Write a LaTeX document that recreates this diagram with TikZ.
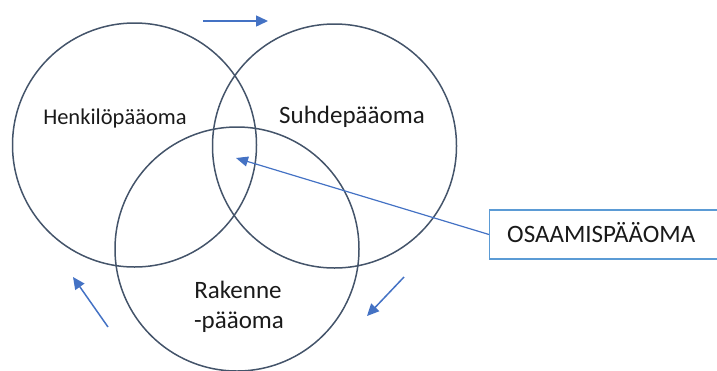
\documentclass[tikz,border=0pt]{standalone}
\usepackage{fontspec}
\setmainfont{Carlito}
\usetikzlibrary{arrows.meta}
\definecolor{ringcol}{HTML}{44546A}
\definecolor{flowcol}{HTML}{4472C4}
\definecolor{boxcol}{HTML}{5B9BD5}
\definecolor{txtcol}{HTML}{1A1A1A}
\tikzset{
  ring/.style={circle, draw=ringcol, line width=1.5pt, minimum size=244pt, inner sep=0pt},
  lbl/.style={text=txtcol, font=\fontsize{25}{28}\selectfont, align=center, inner sep=0pt},
  flow/.style={draw=flowcol, line width=1.5pt, -{Triangle[length=12pt,width=11pt]}},
  capbox/.style={draw=boxcol, line width=1.4pt, fill=white, minimum width=240pt, minimum height=49pt, anchor=west, inner sep=0pt}
}
\begin{document}
\begin{tikzpicture}[x=1pt,y=-1pt]
  \useasboundingbox (0,0) rectangle (717,370);
  % three overlapping capitals
  \node[ring] (hen) at (134.5,145) {};
  \node[ring] (suh) at (334.5,146) {};
  \node[ring] (rak) at (237,249) {};
  % labels
  \node[lbl, font=\fontsize{22.5}{26}\selectfont, anchor=base] (henl) at (115,124) {Henkilöpääoma};
  \node[lbl, anchor=base] (suhl) at (352,123) {Suhdepääoma};
  \node[lbl, anchor=base] (rakl1) at (238,298) {Rakenne};
  \node[lbl, anchor=base] (rakl2) at (239,328) {-pääoma};
  % flow arrows around the diagram
  \coordinate (t1) at (203,21);  \coordinate (t2) at (268,21);
  \coordinate (r1) at (404,277); \coordinate (r2) at (367,316);
  \coordinate (l1) at (108,327); \coordinate (l2) at (73,277);
  \draw[flow] (t1) -- (t2);
  \draw[flow] (r1) -- (r2);
  \draw[flow] (l1) -- (l2);
  % intersection callout
  \node[capbox] (osa) at (489,234.5) {};
  \node[lbl, anchor=base west] (osal) at (507,242) {OSAAMISPÄÄOMA};
  \coordinate (core) at (236,158);
  \draw[draw=flowcol, line width=1.2pt, -{Triangle[length=12pt,width=10pt]}] (osa.west) -- (core);
\end{tikzpicture}
\end{document}
